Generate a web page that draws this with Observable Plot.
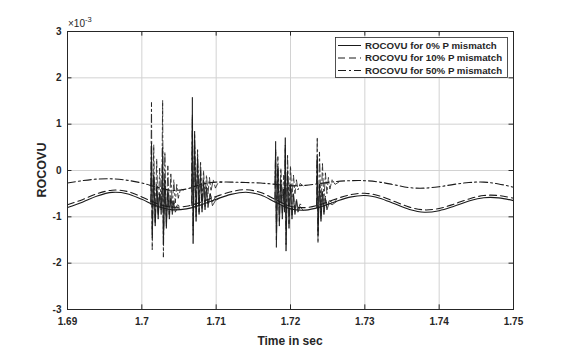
<!DOCTYPE html>
<html>
<head>
<meta charset="utf-8">
<script src="https://cdn.jsdelivr.net/npm/d3@7"></script>
<script src="https://cdn.jsdelivr.net/npm/@observablehq/plot@0.6"></script>
<style>
  html, body { margin: 0; padding: 0; background: #fff; }
  #chart { width: 582px; height: 351px; }
</style>
</head>
<body>
<div id="chart"></div>
<script>
// ---- tick data ----
const xTicks = [1.69, 1.70, 1.71, 1.72, 1.73, 1.74, 1.75];
const xTickLabels = ["1.69", "1.7", "1.71", "1.72", "1.73", "1.74", "1.75"];
const yTicks = [-3, -2, -1, 0, 1, 2, 3];
const yTickLabels = ["-3", "-2", "-1", "0", "1", "2", "3"];

// ---- series names ----
const seriesNames = ["ROCOVU for 0% P mismatch", "ROCOVU for 10% P mismatch", "ROCOVU for 50% P mismatch"];

// ---- baseline samples (values in units of 1e-3) ----
const baseT = [1.690, 1.692, 1.694, 1.696, 1.698, 1.700, 1.702, 1.704, 1.706, 1.708,
               1.710, 1.712, 1.714, 1.716, 1.718, 1.720, 1.722, 1.724, 1.726, 1.728,
               1.730, 1.732, 1.734, 1.736, 1.738, 1.740, 1.742, 1.744, 1.746, 1.748, 1.750];
const solidBase = [-0.80, -0.685, -0.55, -0.473, -0.50, -0.623, -0.766, -0.846, -0.828, -0.74,
                   -0.62, -0.516, -0.47, -0.53, -0.686, -0.828, -0.855, -0.787, -0.673, -0.574,
                   -0.54, -0.598, -0.72, -0.842, -0.90, -0.867, -0.772, -0.66, -0.588, -0.59, -0.65];
const dashedBase = [-0.74, -0.63, -0.50, -0.425, -0.45, -0.57, -0.71, -0.79, -0.77, -0.68,
                    -0.56, -0.46, -0.415, -0.475, -0.63, -0.77, -0.80, -0.735, -0.62, -0.525,
                    -0.49, -0.55, -0.67, -0.79, -0.85, -0.82, -0.725, -0.615, -0.54, -0.54, -0.60];
const dashDotBase = [-0.27, -0.22, -0.185, -0.18, -0.21, -0.27, -0.36, -0.43, -0.40, -0.30,
                     -0.25, -0.25, -0.26, -0.27, -0.30, -0.33, -0.32, -0.28, -0.24, -0.22,
                     -0.22, -0.25, -0.31, -0.37, -0.38, -0.35, -0.30, -0.26, -0.25, -0.29, -0.36];

// ---- disturbance spikes: [time, value] pairs ----
const solidSpike1 = [[1.7012,-0.73],[1.7013,0.6],[1.7014,-1.45],[1.7016,-0.1],[1.7018,-1.2],[1.7020,-0.35],[1.7022,-1.05],[1.7024,-0.5],[1.7026,-0.95],[1.7027,-0.7],[1.7028,0.5],[1.7029,-1.6],[1.7031,-0.2],[1.7033,-1.25],[1.7035,-0.45],[1.7037,-1.05],[1.7039,-0.6],[1.7041,-0.95],[1.7043,-0.7],[1.7045,-0.9],[1.7048,-0.8],[1.7052,-0.84]];
const solidSpike2 = [[1.7067,-0.76],[1.7068,1.58],[1.7069,-1.58],[1.7071,0.8],[1.7073,-1.1],[1.7075,0.3],[1.7077,-0.95],[1.7079,0.0],[1.7081,-0.9],[1.7083,-0.2],[1.7085,-0.85],[1.7087,-0.35],[1.7089,-0.8],[1.7092,-0.5],[1.7095,-0.76],[1.7099,-0.65],[1.7104,-0.60]];
const solidSpike3 = [[1.7179,-0.68],[1.7180,0.63],[1.7181,-1.66],[1.7183,0.1],[1.7185,-1.2],[1.7187,-0.2],[1.7189,-1.05],[1.7191,-0.4],[1.7192,-0.9],[1.7193,0.71],[1.7194,-1.74],[1.7196,0.0],[1.7198,-1.25],[1.7200,-0.3],[1.7202,-1.05],[1.7204,-0.5],[1.7206,-0.95],[1.7208,-0.65],[1.7210,-0.9],[1.7213,-0.78],[1.7217,-0.86]];
const solidSpike4 = [[1.7235,-0.80],[1.7236,0.3],[1.7237,-1.4],[1.7239,-0.3],[1.7241,-1.1],[1.7243,-0.5],[1.7245,-0.95],[1.7247,-0.6],[1.7249,-0.85],[1.7252,-0.7],[1.7256,-0.74],[1.7262,-0.67]];

const dashedSpike1 = [[1.7012,-0.67],[1.7013,0.3],[1.7014,-1.3],[1.7016,-0.15],[1.7018,-1.1],[1.7020,-0.3],[1.7022,-0.95],[1.7024,-0.45],[1.7026,-0.85],[1.7027,-0.65],[1.7028,0.2],[1.7029,-1.45],[1.7031,-0.2],[1.7033,-1.1],[1.7035,-0.4],[1.7037,-0.95],[1.7039,-0.55],[1.7041,-0.88],[1.7043,-0.65],[1.7045,-0.82],[1.7048,-0.74],[1.7052,-0.78]];
const dashedSpike2 = [[1.7067,-0.70],[1.7068,1.1],[1.7069,-1.4],[1.7071,0.5],[1.7073,-1.0],[1.7075,0.1],[1.7077,-0.9],[1.7079,-0.15],[1.7081,-0.82],[1.7083,-0.3],[1.7085,-0.78],[1.7087,-0.42],[1.7089,-0.72],[1.7092,-0.5],[1.7095,-0.68],[1.7099,-0.58],[1.7104,-0.55]];
const dashedSpike3 = [[1.7179,-0.62],[1.7180,0.4],[1.7181,-1.5],[1.7183,0.0],[1.7185,-1.1],[1.7187,-0.25],[1.7189,-0.95],[1.7191,-0.4],[1.7192,-0.85],[1.7193,0.45],[1.7194,-1.6],[1.7196,-0.05],[1.7198,-1.15],[1.7200,-0.3],[1.7202,-1.0],[1.7204,-0.5],[1.7206,-0.9],[1.7208,-0.6],[1.7210,-0.85],[1.7213,-0.72],[1.7217,-0.8]];
const dashedSpike4 = [[1.7235,-0.75],[1.7236,0.2],[1.7237,-1.3],[1.7239,-0.3],[1.7241,-1.05],[1.7243,-0.45],[1.7245,-0.9],[1.7247,-0.55],[1.7249,-0.8],[1.7252,-0.65],[1.7256,-0.69],[1.7262,-0.62]];

const dashDotSpike1 = [[1.7012,-0.34],[1.7013,1.47],[1.7014,-1.71],[1.7016,0.55],[1.7018,-1.15],[1.7020,0.25],[1.7022,-0.95],[1.7024,0.05],[1.7026,-0.8],[1.7027,-0.2],[1.7028,1.51],[1.7029,-1.87],[1.7031,0.4],[1.7033,-1.2],[1.7035,0.1],[1.7037,-0.95],[1.7039,-0.05],[1.7041,-0.8],[1.7043,-0.2],[1.7045,-0.7],[1.7047,-0.3],[1.7049,-0.6],[1.7052,-0.4],[1.7056,-0.42]];
const dashDotSpike2 = [[1.7067,-0.36],[1.7068,1.2],[1.7069,-1.2],[1.7071,0.85],[1.7073,-0.9],[1.7075,0.45],[1.7077,-0.75],[1.7079,0.2],[1.7081,-0.65],[1.7083,0.0],[1.7085,-0.55],[1.7087,-0.1],[1.7089,-0.5],[1.7091,-0.15],[1.7093,-0.45],[1.7096,-0.2],[1.7099,-0.38],[1.7103,-0.25],[1.7108,-0.26]];
const dashDotSpike3 = [[1.7179,-0.30],[1.7180,0.45],[1.7181,-1.2],[1.7183,0.3],[1.7185,-0.8],[1.7187,0.05],[1.7189,-0.6],[1.7191,-0.1],[1.7192,-0.5],[1.7193,0.55],[1.7194,-1.3],[1.7196,0.35],[1.7198,-0.8],[1.7200,0.1],[1.7202,-0.6],[1.7204,-0.1],[1.7206,-0.5],[1.7208,-0.2],[1.7210,-0.42],[1.7213,-0.28],[1.7217,-0.33]];
const dashDotSpike4 = [[1.7235,-0.29],[1.7236,0.72],[1.7237,-1.57],[1.7239,0.4],[1.7241,-0.9],[1.7243,0.15],[1.7245,-0.65],[1.7247,-0.05],[1.7249,-0.5],[1.7251,-0.15],[1.7253,-0.4],[1.7256,-0.2],[1.7260,-0.3],[1.7265,-0.25]];

// ---- build tables ----
const baseRows = (vals) => baseT.map((t, i) => ({t, v: vals[i]}));
const spikeRows = (groups) => groups.flatMap((g, gi) => g.map(([t, v]) => ({t, v, g: gi})));

const INK = "#1a1a1a";
const styles = [
  {dash: null, base: solidBase, spikes: [solidSpike1, solidSpike2, solidSpike3, solidSpike4]},
  {dash: "7,4", base: dashedBase, spikes: [dashedSpike1, dashedSpike2, dashedSpike3, dashedSpike4]},
  {dash: "8,3,2,3", base: dashDotBase, spikes: [dashDotSpike1, dashDotSpike2, dashDotSpike3, dashDotSpike4]}
];

const lineMarks = styles.flatMap(s => [
  Plot.line(baseRows(s.base), {x: "t", y: "v", curve: "catmull-rom", stroke: INK, strokeWidth: 1.1, strokeDasharray: s.dash}),
  Plot.line(spikeRows(s.spikes), {x: "t", y: "v", z: "g", curve: "linear", stroke: INK, strokeWidth: 0.8, strokeDasharray: s.dash})
]);

const AX = "#262626";
const GRID = "#d2d2d2";
const chart = Plot.plot({
  width: 582,
  height: 351,
  marginLeft: 67,
  marginRight: 69,
  marginTop: 31,
  marginBottom: 42,
  style: {fontFamily: "'Liberation Sans', Arial, sans-serif", fontSize: "10px", fontWeight: "bold", background: "#fff", color: AX},
  x: {domain: [1.69, 1.75]},
  y: {domain: [-3, 3]},
  marks: [
    Plot.ruleX(xTicks, {x: d => d, stroke: GRID, strokeWidth: 1}),
    Plot.ruleY(yTicks, {y: d => d, stroke: GRID, strokeWidth: 1}),
    ...lineMarks,
    Plot.ruleX(xTicks, {x: d => d, y1: -3, y2: -2.9, stroke: AX}),
    Plot.ruleX(xTicks, {x: d => d, y1: 3, y2: 2.9, stroke: AX}),
    Plot.ruleY(yTicks, {y: d => d, x1: 1.69, x2: 1.6906, stroke: AX}),
    Plot.ruleY(yTicks, {y: d => d, x1: 1.75, x2: 1.7494, stroke: AX}),
    Plot.frame({stroke: AX, strokeWidth: 1}),
    Plot.axisX(xTicks, {tickSize: 0, tickPadding: 8, label: null, tickFormat: d => xTickLabels[xTicks.indexOf(d)], fill: AX}),
    Plot.axisY(yTicks, {tickSize: 0, tickPadding: 6, label: null, tickFormat: d => yTickLabels[yTicks.indexOf(d)], fill: AX})
  ]
});
document.getElementById("chart").appendChild(chart);

// ---- titles, exponent and legend ----
const svg = d3.select(chart);
svg.append("text").attr("x", 290).attr("y", 345).attr("text-anchor", "middle")
  .attr("font-size", 12).attr("fill", AX).text("Time in sec");
svg.append("text").attr("transform", "translate(46,170) rotate(-90)").attr("text-anchor", "middle")
  .attr("font-size", 12.5).attr("fill", AX).text("ROCOVU");
const ex = svg.append("text").attr("x", 68).attr("y", 27).attr("text-anchor", "start")
  .attr("font-size", 10).attr("font-weight", "normal").attr("fill", AX);
ex.append("tspan").text("\u00d710");
ex.append("tspan").attr("dy", -5).attr("font-size", 7.5).text("-3");

const lg = svg.append("g");
lg.append("rect").attr("x", 335.5).attr("y", 37.5).attr("width", 172).attr("height", 40)
  .attr("fill", "#fff").attr("stroke", AX).attr("stroke-width", 0.8);
const rowsY = [45.5, 58, 70.5];
styles.forEach((s, i) => {
  lg.append("line").attr("x1", 338).attr("x2", 361).attr("y1", rowsY[i]).attr("y2", rowsY[i])
    .attr("stroke", INK).attr("stroke-width", 1).attr("stroke-dasharray", s.dash);
  lg.append("text").attr("x", 365).attr("y", rowsY[i]).attr("dy", "0.35em").attr("text-anchor", "start")
    .attr("font-size", 9.7).attr("fill", AX).text(seriesNames[i]);
});
</script>
</body>
</html>
